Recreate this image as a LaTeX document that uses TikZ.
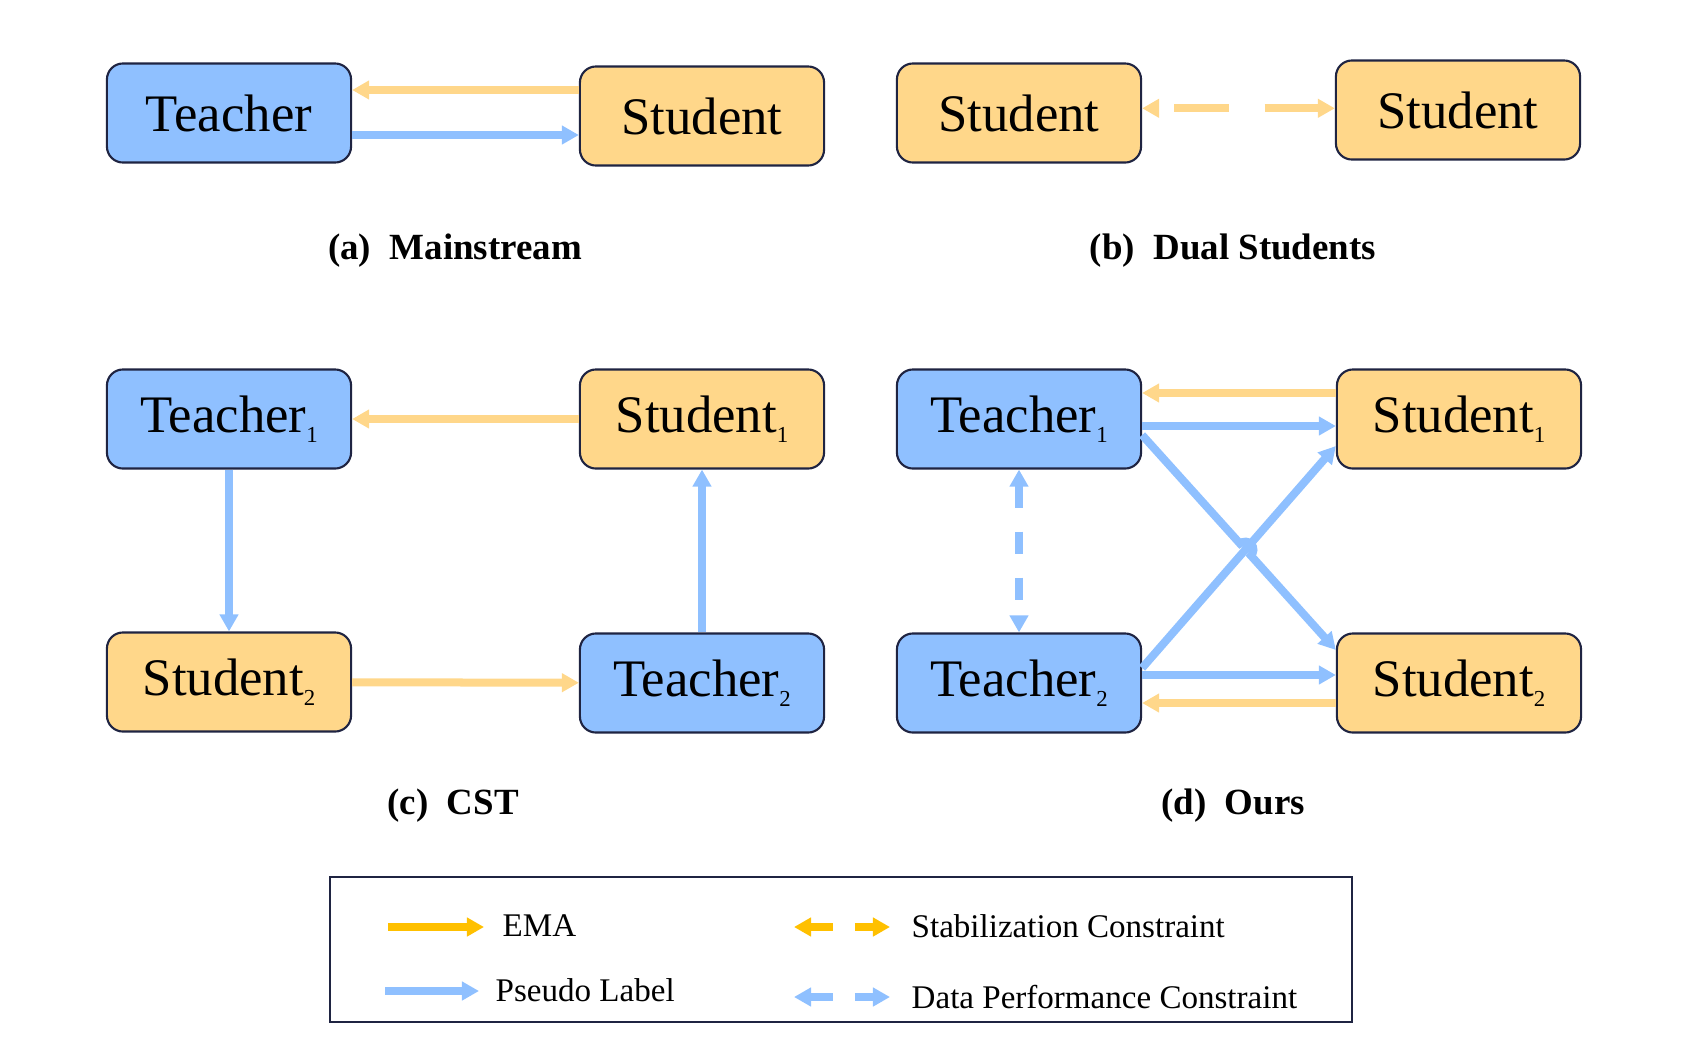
\documentclass[tikz,border=0pt]{standalone}
\usepackage{fontspec}
\setmainfont{Liberation Serif}
\usetikzlibrary{arrows.meta,calc}
\definecolor{tchblue}{RGB}{143,192,255}
\definecolor{stuorange}{RGB}{255,215,138}
\definecolor{emaorange}{RGB}{255,192,0}
\definecolor{boxline}{RGB}{31,36,66}
\tikzstyle{block} = [draw=boxline,line width=0.6pt,rounded corners=0.16cm,minimum width=2.44cm,minimum height=0.99cm,inner sep=0pt,font=\fontsize{15}{18}\selectfont]
\tikzstyle{teacher} = [block,fill=tchblue]
\tikzstyle{student} = [block,fill=stuorange]
\tikzstyle{ema} = [color=stuorange,line width=0.08cm,-{Triangle[length=0.17cm,width=0.18cm]}]
\tikzstyle{pseudo} = [color=tchblue,line width=0.08cm,-{Triangle[length=0.17cm,width=0.18cm]}]
\tikzstyle{stab} = [color=stuorange,line width=0.08cm,{Triangle[length=0.17cm,width=0.18cm]}-{Triangle[length=0.17cm,width=0.18cm]}]
\tikzstyle{dpc} = [color=tchblue,line width=0.08cm,{Triangle[length=0.17cm,width=0.18cm]}-{Triangle[length=0.17cm,width=0.18cm]}]
\tikzstyle{subcap} = [font=\fontsize{10.5}{12}\selectfont\bfseries]
\tikzstyle{legtext} = [anchor=west,inner sep=0pt,font=\fontsize{9.4}{11}\selectfont]
\newcommand{\idx}[1]{\raisebox{-2.8pt}{\fontsize{6.5}{7}\selectfont#1}}
\begin{document}
\begin{tikzpicture}[x=0.01cm,y=0.01cm]
\useasboundingbox (0,0) rectangle (1702,-1042);
% (a) mainstream
\node (ta) [teacher] at (229,-113) {Teacher};
\node (sa) [student] at (702,-116) {Student};
\draw [ema] ([yshift=0.26cm]sa.west) -- ([yshift=0.26cm]sa.west -| ta.east);
\draw [pseudo] ([yshift=-0.22cm]ta.east) -- ([yshift=-0.22cm]ta.east -| sa.west);
\node (capa) [subcap] at (455,-251) {(a)\enspace Mainstream};
% (b) dual students
\node (sb1) [student] at (1019,-113) {Student};
\node (sb2) [student] at (1458,-110) {Student};
\draw [stab,dash pattern=on 0.545cm off 0.36cm,dash phase=0.745cm] ([yshift=0.047cm]sb1.east) -- ([yshift=0.047cm]sb1.east -| sb2.west);
\node (capb) [subcap] at (1233,-251) {(b)\enspace Dual Students};
% (c) CST
\node (t1c) [teacher] at (229,-419) {Teacher\idx{1}};
\node (s1c) [student] at (702,-419) {Student\idx{1}};
\node (s2c) [student] at (229,-682) {Student\idx{2}};
\node (t2c) [teacher] at (702,-683) {Teacher\idx{2}};
\draw [ema] (s1c) -- (t1c);
\draw [pseudo] (t1c) -- (s2c);
\draw [ema] (s2c) -- (t2c);
\draw [pseudo] (t2c) -- (s1c);
\node (capc) [subcap] at (453,-806) {(c)\enspace CST};
% (d) ours
\node (t1d) [teacher] at (1019,-419) {Teacher\idx{1}};
\node (s1d) [student] at (1459,-419) {Student\idx{1}};
\node (t2d) [teacher] at (1019,-683) {Teacher\idx{2}};
\node (s2d) [student] at (1459,-683) {Student\idx{2}};
\draw [ema] ([yshift=0.26cm]s1d.west) -- ([yshift=0.26cm]s1d.west -| t1d.east);
\draw [pseudo] ([yshift=-0.07cm]t1d.east) -- ([yshift=-0.07cm]t1d.east -| s1d.west);
\draw [pseudo] ([yshift=0.08cm]t2d.east) -- ([yshift=0.08cm]t2d.east -| s2d.west);
\draw [ema] ([yshift=-0.2cm]s2d.west) -- ([yshift=-0.2cm]s2d.west -| t2d.east);
\draw [pseudo] ([yshift=0.15cm]t2d.east) -- ([yshift=-0.27cm]s1d.west);
\coordinate (h1) at ([yshift=-0.16cm]t1d.east);
\coordinate (h2) at ([yshift=0.33cm]s2d.west);
\draw [pseudo] (h1) -- ($(h1)!0.5055!(h2)$) arc[start angle=132.3,end angle=-47.7,radius=0.08cm] -- (h2);
\draw [dpc,dash pattern=on 0.22cm off 0.24cm] (t1d) -- (t2d);
\node (capd) [subcap] at (1233,-806) {(d)\enspace Ours};
% legend
\node (legend) [draw=boxline,line width=0.6pt,minimum width=10.22cm,minimum height=1.45cm] at (841,-949.5) {};
\coordinate (ema1) at (388,-927);
\coordinate (ema2) at (484,-927);
\draw [ema,color=emaorange] (ema1) -- (ema2);
\node (lema) [legtext] at (502,-926) {EMA};
\coordinate (pl1) at (385,-991);
\coordinate (pl2) at (479,-991);
\draw [pseudo] (pl1) -- (pl2);
\node (lpl) [legtext] at (495,-990) {Pseudo Label};
\coordinate (sc1) at (794,-927);
\coordinate (sc2) at (890,-927);
\draw [stab,color=emaorange,dash pattern=on 0.23cm off 0.22cm] (sc1) -- (sc2);
\node (lsc) [legtext] at (911,-926) {Stabilization Constraint};
\coordinate (dp1) at (794,-997);
\coordinate (dp2) at (890,-997);
\draw [dpc,dash pattern=on 0.23cm off 0.22cm] (dp1) -- (dp2);
\node (ldp) [legtext] at (911,-997) {Data Performance Constraint};
\end{tikzpicture}
\end{document}
